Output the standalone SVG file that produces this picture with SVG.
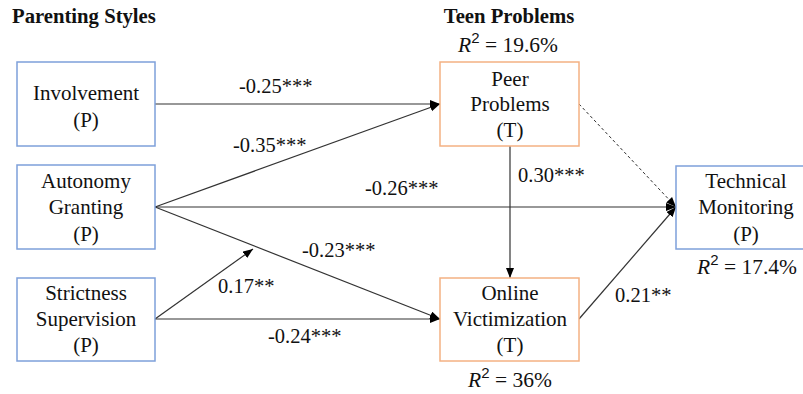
<svg xmlns="http://www.w3.org/2000/svg" width="803" height="394" viewBox="0 0 803 394">
<defs>
<marker id="ah" markerUnits="userSpaceOnUse" markerWidth="12" markerHeight="10" refX="10" refY="4" orient="auto">
<path d="M0,0 L10,4 L0,8 z" fill="#000"/>
</marker>
</defs>
<style>
text{font-family:"Liberation Serif","Times New Roman",serif;font-size:20.5px;fill:#111;}
.n{font-size:21px;}
.t{text-anchor:middle;}
.h{font-weight:bold;font-size:20.7px;}
.pb{fill:#fff;stroke:#7EA0DA;stroke-width:1.5;}
.tb{fill:#fff;stroke:#F4B183;stroke-width:1.5;}
.c{stroke:#333;stroke-width:1.2;fill:none;}
.d{stroke:#333;stroke-width:1;fill:none;stroke-dasharray:3,2.5;}
.q{font-size:21.5px;}
.r{font-style:italic;}
.s{font-size:15px;font-style:normal;font-family:"Liberation Sans",Arial,sans-serif;}
</style>
<rect width="803" height="394" fill="#fff"/>
<text class="h" x="12" y="23">Parenting Styles</text>
<text class="h t" x="509" y="23">Teen Problems</text>
<g id="connectors">
<line class="c" x1="155" y1="104" x2="440" y2="104" marker-end="url(#ah)"/>
<line class="c" x1="155" y1="207" x2="440" y2="104" marker-end="url(#ah)"/>
<line class="c" x1="155" y1="207" x2="676" y2="207" marker-end="url(#ah)"/>
<line class="c" x1="155" y1="207" x2="440" y2="319" marker-end="url(#ah)"/>
<line class="c" x1="155" y1="319" x2="440" y2="319" marker-end="url(#ah)"/>
<line class="c" x1="155" y1="319" x2="253" y2="249" marker-end="url(#ah)"/>
<line class="c" x1="510" y1="146" x2="510" y2="278" marker-end="url(#ah)"/>
<line class="c" x1="579" y1="319" x2="676" y2="207" marker-end="url(#ah)"/>
<line class="d" x1="579" y1="104" x2="676" y2="207" marker-end="url(#ah)"/>
<text x="239" y="93">-0.25***</text>
<text x="233" y="152">-0.35***</text>
<text x="365" y="195">-0.26***</text>
<text x="518" y="182">0.30***</text>
<text x="302" y="257">-0.23***</text>
<text x="218" y="293">0.17**</text>
<text x="268" y="343">-0.24***</text>
<text x="615" y="302">0.21**</text>
</g>
<g id="involvement">
<rect class="pb" x="17" y="62" width="138" height="84"/>
<text class="t n" x="86" y="100">Involvement</text>
<text class="t n" x="86" y="127">(P)</text>
</g>
<g id="autonomy">
<rect class="pb" x="17" y="165" width="138" height="84"/>
<text class="t n" x="86" y="188">Autonomy</text>
<text class="t n" x="86" y="214">Granting</text>
<text class="t n" x="86" y="241">(P)</text>
</g>
<g id="strictness">
<rect class="pb" x="17" y="278" width="138" height="83"/>
<text class="t n" x="86" y="300">Strictness</text>
<text class="t n" x="86" y="326">Supervision</text>
<text class="t n" x="86" y="352">(P)</text>
</g>
<g id="peer">
<rect class="tb" x="440" y="62" width="139" height="84"/>
<text class="t n" x="510" y="86">Peer</text>
<text class="t n" x="510" y="111">Problems</text>
<text class="t n" x="510" y="137">(T)</text>
<text class="t q" x="508" y="52"><tspan class="r">R</tspan><tspan class="s" dy="-9">2</tspan><tspan dy="9"> = 19.6%</tspan></text>
</g>
<g id="online">
<rect class="tb" x="440" y="278" width="139" height="83"/>
<text class="t n" x="510" y="300">Online</text>
<text class="t n" x="510" y="326">Victimization</text>
<text class="t n" x="510" y="352">(T)</text>
<text class="t q" x="510" y="387"><tspan class="r">R</tspan><tspan class="s" dy="-9">2</tspan><tspan dy="9"> = 36%</tspan></text>
</g>
<g id="technical">
<rect class="pb" x="676" y="166" width="140" height="83"/>
<text class="t n" x="746" y="188">Technical</text>
<text class="t n" x="746" y="214">Monitoring</text>
<text class="t n" x="746" y="241">(P)</text>
<text class="t q" x="747" y="274"><tspan class="r">R</tspan><tspan class="s" dy="-9">2</tspan><tspan dy="9"> = 17.4%</tspan></text>
</g>
</svg>
